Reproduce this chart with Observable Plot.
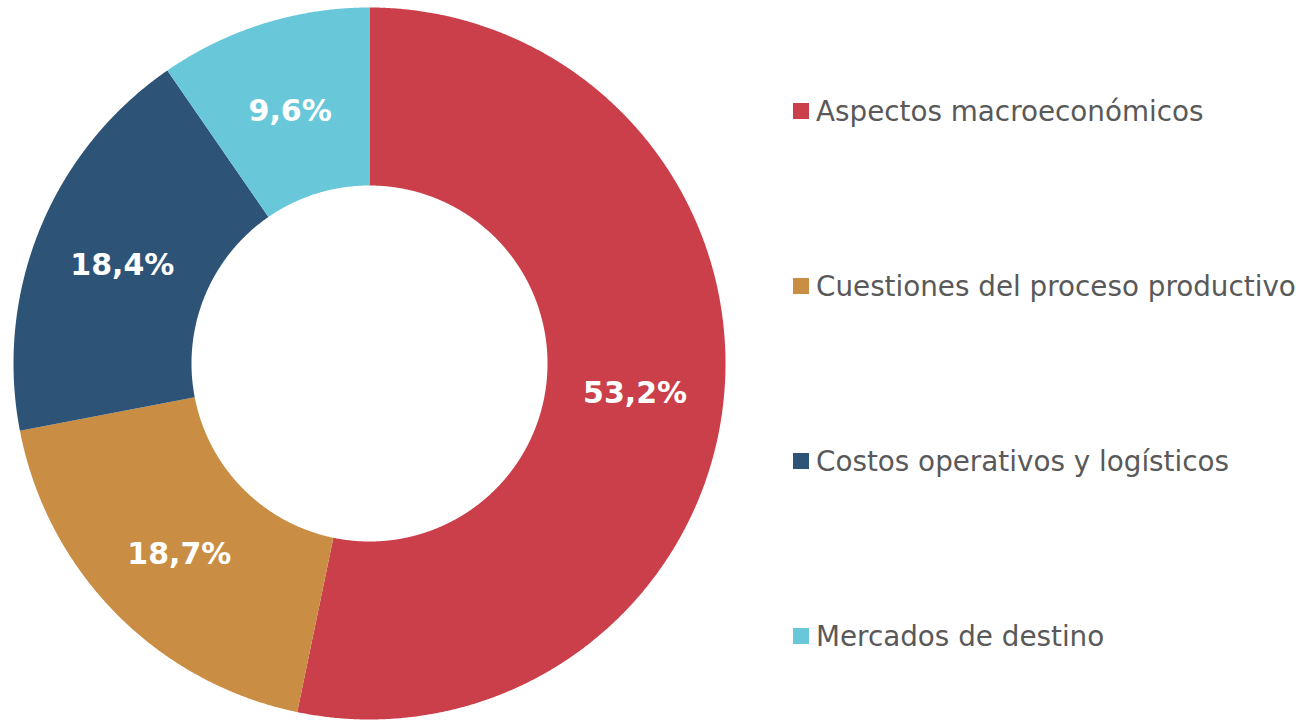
<!DOCTYPE html>
<html>
<head>
<meta charset="utf-8">
<script src="https://cdn.jsdelivr.net/npm/d3@7"></script>
<script src="https://cdn.jsdelivr.net/npm/@observablehq/plot@0.6"></script>
<style>
  html, body { margin: 0; padding: 0; background: #fff; }
  #wrap { position: relative; width: 1304px; height: 721px; }
  #legend { position: absolute; left: 793px; top: 0; font-family: "DejaVu Sans", Verdana, sans-serif; font-size: 27.8px; color: #595959; }
  .item { position: absolute; left: 0; white-space: nowrap; display: flex; align-items: center; }
  .sw { width: 16px; height: 16px; margin-right: 7px; flex: none; }
</style>
</head>
<body>
<div id="wrap"><div id="legend"></div></div>
<script>
const categories = ["Aspectos macroeconómicos", "Cuestiones del proceso productivo", "Costos operativos y logísticos", "Mercados de destino"];
const values = [53.2, 18.7, 18.4, 9.6];
const labels = ["53,2%", "18,7%", "18,4%", "9,6%"];
const colors = ["#CB3F4A", "#C98D43", "#2D5477", "#68C8DA"];

const innerR = 0.5, outerR = 1;
const pie = d3.pie().sort(null).value(d => d.value)(categories.map((c, i) => ({cat: c, value: values[i], label: labels[i]})));

// polygon points for each slice (angles clockwise from top)
const pts = [];
pie.forEach(s => {
  const a0 = s.startAngle, a1 = s.endAngle;
  const n = Math.max(2, Math.ceil((a1 - a0) / (Math.PI / 720)));
  for (let k = 0; k <= n; k++) {
    const a = a0 + (a1 - a0) * k / n;
    pts.push({cat: s.data.cat, x: outerR * Math.sin(a), y: outerR * Math.cos(a)});
  }
  for (let k = n; k >= 0; k--) {
    const a = a0 + (a1 - a0) * k / n;
    pts.push({cat: s.data.cat, x: innerR * Math.sin(a), y: innerR * Math.cos(a)});
  }
});
const centroids = pie.map(s => {
  const a = (s.startAngle + s.endAngle) / 2, r = (innerR + outerR) / 2;
  return {label: s.data.label, x: r * Math.sin(a), y: r * Math.cos(a)};
});

const chart = Plot.plot({
  width: 1304, height: 721,
  marginLeft: 13, marginRight: 579, marginTop: 7, marginBottom: 2,
  x: {domain: [-1, 1], axis: null},
  y: {domain: [-1, 1], axis: null},
  color: {domain: categories, range: colors},
  style: {background: "white"},
  marks: [
    Plot.line(pts, {x: "x", y: "y", z: "cat", fill: "cat", stroke: "none", curve: "linear"}),
    Plot.text(centroids, {x: "x", y: "y", dy: 3, text: "label", fill: "white", fontWeight: "bold", fontSize: 30, fontFamily: "DejaVu Sans, Verdana, sans-serif"})
  ]
});
document.getElementById("wrap").prepend(chart);

const legend = document.getElementById("legend");
const legendY = [111, 286, 461, 636];
categories.forEach((c, i) => {
  const it = document.createElement("div");
  it.className = "item";
  it.style.top = (legendY[i] - 18) + "px";
  it.style.height = "36px";
  it.innerHTML = `<span class="sw" style="background:${colors[i]}"></span><span>${c}</span>`;
  legend.appendChild(it);
});
</script>
</body>
</html>
